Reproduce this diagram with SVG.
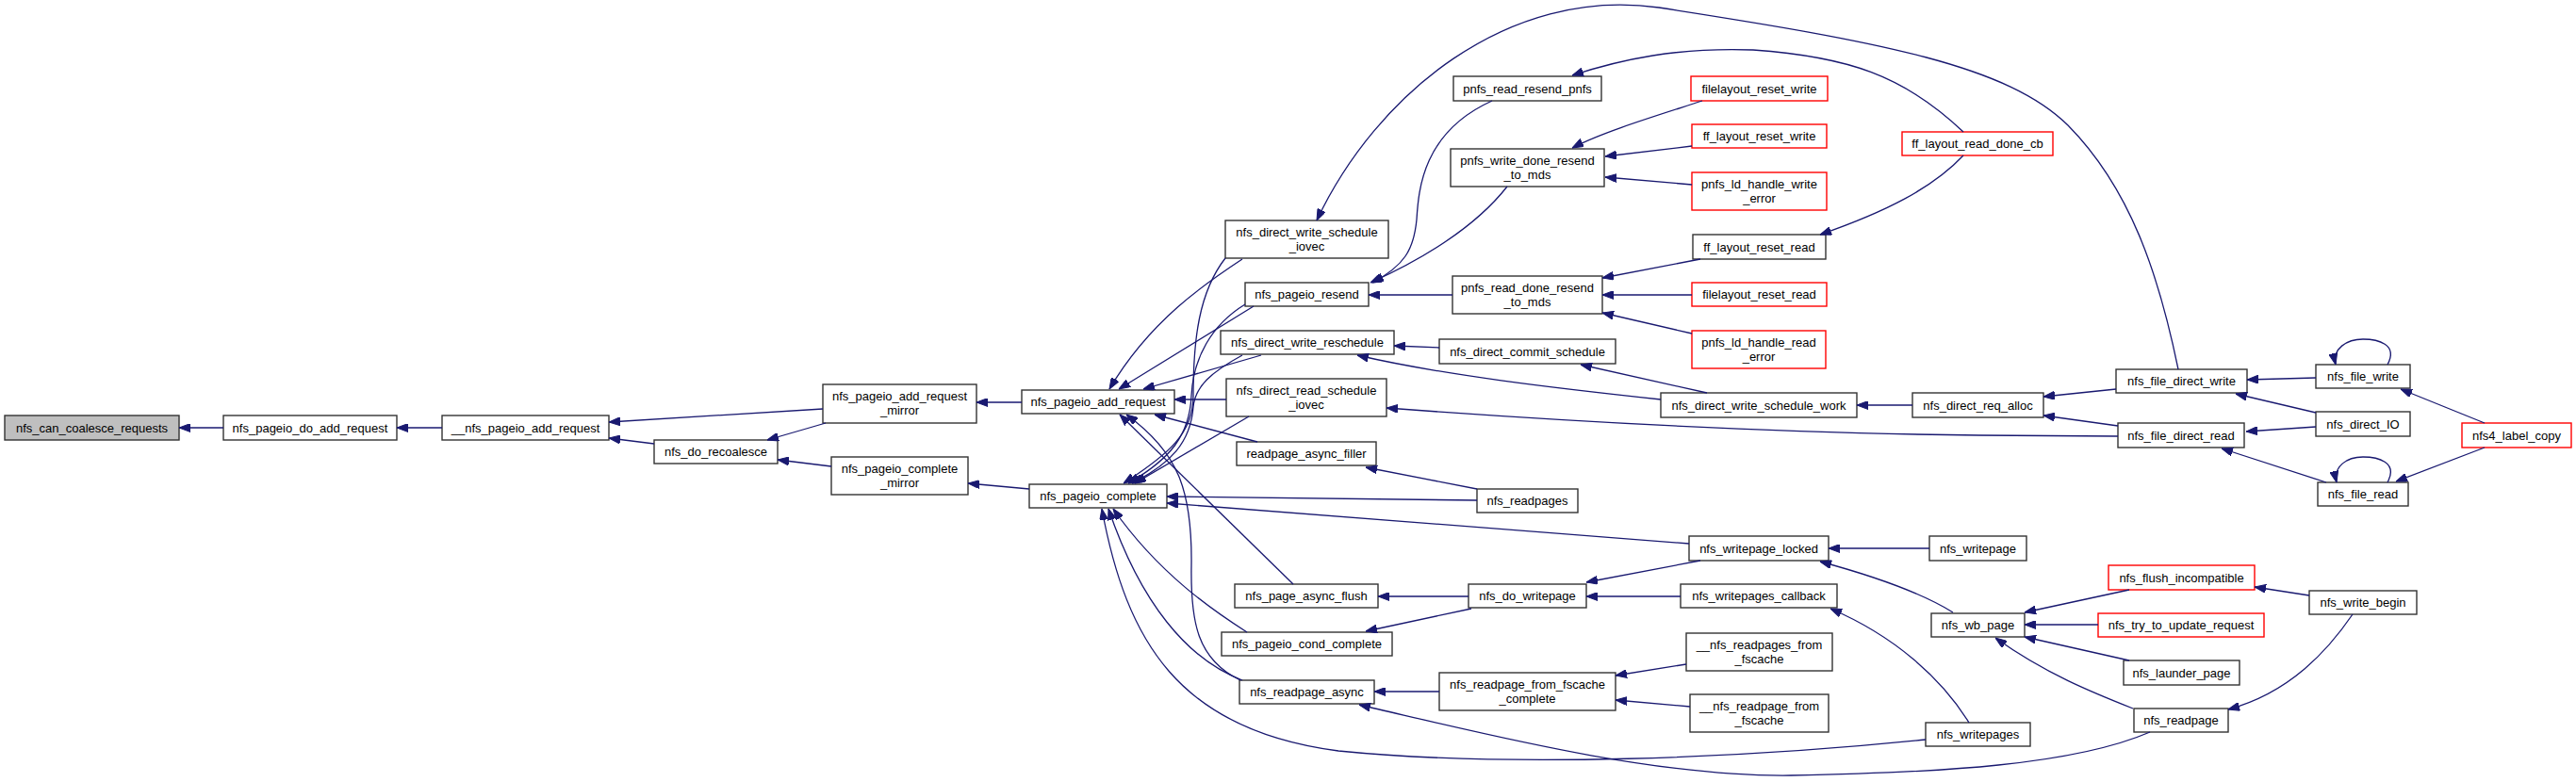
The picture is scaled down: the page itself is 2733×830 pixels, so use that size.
<svg xmlns="http://www.w3.org/2000/svg" width="2733" height="830" viewBox="0 0 2733 830">
<style>
.n rect{fill:#ffffff;stroke:#333333;stroke-width:1.4}
.r rect{fill:#ffffff;stroke:#ff0000;stroke-width:1.4}
.g rect{fill:#bfbfbf;stroke:#333333;stroke-width:1.4}
text{font-family:"Liberation Sans",Arial,sans-serif;font-size:13px;fill:#000000;text-anchor:middle}
#edges path{fill:none;stroke:#191970;stroke-width:1.3;marker-end:url(#ah)}
</style>
<defs>
<marker id="ah" markerWidth="12" markerHeight="9" refX="12" refY="4.5" orient="auto" markerUnits="userSpaceOnUse">
<path d="M0,0 L12,4.5 L0,9 Z" fill="#191970" stroke="#191970" stroke-width="1"/>
</marker>
</defs>
<rect width="2733" height="830" fill="#ffffff"/>

<g id="n_root" class="g"><rect x="5" y="441" width="185" height="26"/><text x="97.5" y="458.5">nfs_can_coalesce_requests</text></g>
<g id="n_do_add" class="n"><rect x="237" y="441" width="184" height="26"/><text x="329" y="458.5">nfs_pageio_do_add_request</text></g>
<g id="n___add" class="n"><rect x="469" y="441" width="177" height="26"/><text x="557.5" y="458.5">__nfs_pageio_add_request</text></g>
<g id="n_mirror" class="n"><rect x="873" y="408" width="163" height="41"/><text x="954.5" y="425">nfs_pageio_add_request</text><text x="954.5" y="440">_mirror</text></g>
<g id="n_recoalesce" class="n"><rect x="694" y="467" width="131" height="25"/><text x="759.5" y="484">nfs_do_recoalesce</text></g>
<g id="n_complete_mirror" class="n"><rect x="882" y="485" width="145" height="40"/><text x="954.5" y="502">nfs_pageio_complete</text><text x="954.5" y="517">_mirror</text></g>
<g id="n_add_request" class="n"><rect x="1084" y="414" width="162" height="25"/><text x="1165" y="431">nfs_pageio_add_request</text></g>
<g id="n_complete" class="n"><rect x="1092" y="514" width="146" height="25"/><text x="1165" y="531">nfs_pageio_complete</text></g>
<g id="n_write_schedule_iovec" class="n"><rect x="1300" y="234" width="173" height="40"/><text x="1386.5" y="251">nfs_direct_write_schedule</text><text x="1386.5" y="266">_iovec</text></g>
<g id="n_resend" class="n"><rect x="1321" y="300" width="131" height="25"/><text x="1386.5" y="317">nfs_pageio_resend</text></g>
<g id="n_reschedule" class="n"><rect x="1295" y="351" width="184" height="25"/><text x="1387" y="368">nfs_direct_write_reschedule</text></g>
<g id="n_read_schedule_iovec" class="n"><rect x="1301" y="402" width="170" height="40"/><text x="1386" y="419">nfs_direct_read_schedule</text><text x="1386" y="434">_iovec</text></g>
<g id="n_filler" class="n"><rect x="1312" y="469" width="148" height="25"/><text x="1386" y="486">readpage_async_filler</text></g>
<g id="n_page_async_flush" class="n"><rect x="1310" y="620" width="152" height="25"/><text x="1386" y="637">nfs_page_async_flush</text></g>
<g id="n_cond_complete" class="n"><rect x="1296" y="671" width="181" height="25"/><text x="1386.5" y="688">nfs_pageio_cond_complete</text></g>
<g id="n_readpage_async" class="n"><rect x="1315" y="722" width="143" height="25"/><text x="1386.5" y="739">nfs_readpage_async</text></g>
<g id="n_read_resend_pnfs" class="n"><rect x="1542" y="81" width="157" height="26"/><text x="1620.5" y="98.5">pnfs_read_resend_pnfs</text></g>
<g id="n_write_done" class="n"><rect x="1539" y="158" width="163" height="40"/><text x="1620.5" y="175">pnfs_write_done_resend</text><text x="1620.5" y="190">_to_mds</text></g>
<g id="n_read_done" class="n"><rect x="1541" y="293" width="159" height="40"/><text x="1620.5" y="310">pnfs_read_done_resend</text><text x="1620.5" y="325">_to_mds</text></g>
<g id="n_commit_schedule" class="n"><rect x="1527" y="360" width="187" height="26"/><text x="1620.5" y="377.5">nfs_direct_commit_schedule</text></g>
<g id="n_write_schedule_work" class="n"><rect x="1762" y="417" width="208" height="26"/><text x="1866" y="434.5">nfs_direct_write_schedule_work</text></g>
<g id="n_readpages" class="n"><rect x="1567" y="519" width="107" height="25"/><text x="1620.5" y="536">nfs_readpages</text></g>
<g id="n_writepage_locked" class="n"><rect x="1792" y="569" width="148" height="26"/><text x="1866" y="586.5">nfs_writepage_locked</text></g>
<g id="n_do_writepage" class="n"><rect x="1558" y="620" width="125" height="25"/><text x="1620.5" y="637">nfs_do_writepage</text></g>
<g id="n_writepages_callback" class="n"><rect x="1783" y="620" width="166" height="25"/><text x="1866" y="637">nfs_writepages_callback</text></g>
<g id="n___readpages_fscache" class="n"><rect x="1789" y="672" width="155" height="40"/><text x="1866.5" y="689">__nfs_readpages_from</text><text x="1866.5" y="704">_fscache</text></g>
<g id="n_fscache_complete" class="n"><rect x="1527" y="714" width="187" height="40"/><text x="1620.5" y="731">nfs_readpage_from_fscache</text><text x="1620.5" y="746">_complete</text></g>
<g id="n___readpage_fscache" class="n"><rect x="1793" y="737" width="147" height="40"/><text x="1866.5" y="754">__nfs_readpage_from</text><text x="1866.5" y="769">_fscache</text></g>
<g id="n_filelayout_reset_write" class="r"><rect x="1794" y="81" width="145" height="26"/><text x="1866.5" y="98.5">filelayout_reset_write</text></g>
<g id="n_ff_layout_reset_write" class="r"><rect x="1795" y="132" width="143" height="25"/><text x="1866.5" y="149">ff_layout_reset_write</text></g>
<g id="n_handle_write_error" class="r"><rect x="1795" y="183" width="143" height="40"/><text x="1866.5" y="200">pnfs_ld_handle_write</text><text x="1866.5" y="215">_error</text></g>
<g id="n_ff_layout_reset_read" class="n"><rect x="1796" y="249" width="141" height="26"/><text x="1866.5" y="266.5">ff_layout_reset_read</text></g>
<g id="n_filelayout_reset_read" class="r"><rect x="1795" y="300" width="143" height="25"/><text x="1866.5" y="317">filelayout_reset_read</text></g>
<g id="n_handle_read_error" class="r"><rect x="1795" y="351" width="142" height="40"/><text x="1866" y="368">pnfs_ld_handle_read</text><text x="1866" y="383">_error</text></g>
<g id="n_ff_layout_read_done_cb" class="r"><rect x="2018" y="140" width="160" height="25"/><text x="2098" y="157">ff_layout_read_done_cb</text></g>
<g id="n_req_alloc" class="n"><rect x="2029" y="417" width="139" height="26"/><text x="2098.5" y="434.5">nfs_direct_req_alloc</text></g>
<g id="n_writepage" class="n"><rect x="2047" y="569" width="103" height="26"/><text x="2098.5" y="586.5">nfs_writepage</text></g>
<g id="n_wb_page" class="n"><rect x="2049" y="651" width="99" height="25"/><text x="2098.5" y="668">nfs_wb_page</text></g>
<g id="n_writepages" class="n"><rect x="2043" y="767" width="111" height="25"/><text x="2098.5" y="784">nfs_writepages</text></g>
<g id="n_file_direct_write" class="n"><rect x="2245" y="392" width="139" height="25"/><text x="2314.5" y="409">nfs_file_direct_write</text></g>
<g id="n_file_direct_read" class="n"><rect x="2247" y="449" width="134" height="26"/><text x="2314" y="466.5">nfs_file_direct_read</text></g>
<g id="n_flush_incompatible" class="r"><rect x="2237" y="600" width="155" height="26"/><text x="2314.5" y="617.5">nfs_flush_incompatible</text></g>
<g id="n_try_to_update_request" class="r"><rect x="2226" y="651" width="176" height="25"/><text x="2314" y="668">nfs_try_to_update_request</text></g>
<g id="n_launder_page" class="n"><rect x="2253" y="701" width="123" height="26"/><text x="2314.5" y="718.5">nfs_launder_page</text></g>
<g id="n_readpage" class="n"><rect x="2264" y="752" width="100" height="25"/><text x="2314" y="769">nfs_readpage</text></g>
<g id="n_file_write" class="n"><rect x="2457" y="387" width="100" height="25"/><text x="2507" y="404">nfs_file_write</text></g>
<g id="n_direct_IO" class="n"><rect x="2457" y="437" width="100" height="26"/><text x="2507" y="454.5">nfs_direct_IO</text></g>
<g id="n_file_read" class="n"><rect x="2459" y="512" width="96" height="25"/><text x="2507" y="529">nfs_file_read</text></g>
<g id="n_write_begin" class="n"><rect x="2450" y="627" width="114" height="25"/><text x="2507" y="644">nfs_write_begin</text></g>
<g id="n_nfs4_label_copy" class="r"><rect x="2612" y="449" width="116" height="26"/><text x="2670" y="466.5">nfs4_label_copy</text></g>

<g id="edges">
<path d="M237,454 L190,454"/>
<path d="M469,454 L421,454"/>
<path d="M873,434 L646,448"/>
<path d="M694,471 L646,465"/>
<path d="M876,449 L814,467"/>
<path d="M882,495 L825,488"/>
<path d="M1084,427 L1036,427"/>
<path d="M1092,519 L1027,513"/>
<path d="M1318,275 C1280,300 1220,340 1177,413"/>
<path d="M1330,325 L1187,413"/>
<path d="M1338,377 L1213,413"/>
<path d="M1301,424 L1246,424"/>
<path d="M1334,469 L1225,440"/>
<path d="M1372,620 L1188,440"/>
<path d="M1316,722 C1270,700 1263,660 1264,600 C1265,520 1250,480 1195,440"/>
<path d="M1300,274 C1272,310 1266,360 1266,420 C1266,460 1240,482 1192,513"/>
<path d="M1321,323 C1285,345 1266,380 1264,420 C1262,462 1242,487 1197,513"/>
<path d="M1318,377 C1285,395 1268,410 1266,432 C1263,470 1242,492 1201,513"/>
<path d="M1325,442 L1204,513"/>
<path d="M1567,531 L1238,527"/>
<path d="M1792,577 L1238,534"/>
<path d="M1323,671 C1290,650 1230,610 1181,540"/>
<path d="M1318,722 C1260,700 1210,640 1176,540"/>
<path d="M2043,785 C1850,805 1600,815 1420,797 C1250,775 1195,680 1169,540"/>
<path d="M1527,734 L1458,734"/>
<path d="M2281,777 C2200,812 2060,820 1900,823 C1750,825 1560,775 1442,748"/>
<path d="M1583,107 C1510,140 1505,200 1503,233 C1500,265 1490,282 1456,300"/>
<path d="M1599,198 C1570,235 1520,270 1454,300"/>
<path d="M1541,313 L1452,313"/>
<path d="M2311,392 C2290,290 2260,200 2194,133 C2130,70 2000,45 1760,8 C1600,-15 1460,100 1397,234"/>
<path d="M2083,140 C2020,80 1960,60 1860,53 C1780,50 1720,63 1668,80"/>
<path d="M1806,107 C1760,122 1700,140 1668,157"/>
<path d="M1795,155 L1703,166"/>
<path d="M1795,196 L1703,188"/>
<path d="M2083,165 C2050,200 2000,225 1931,249"/>
<path d="M1804,275 L1700,295"/>
<path d="M1795,313 L1700,313"/>
<path d="M1795,354 L1700,332"/>
<path d="M1527,369 L1479,367"/>
<path d="M1762,424 C1650,412 1530,398 1440,377"/>
<path d="M1811,417 L1677,387"/>
<path d="M2029,430 L1970,430"/>
<path d="M2247,463 L2100,462 C1900,460 1700,450 1471,433"/>
<path d="M2245,413 L2168,421"/>
<path d="M2247,452 L2168,441"/>
<path d="M2457,401 L2384,403"/>
<path d="M2457,438 L2372,418"/>
<path d="M2533,387 C2545,365 2522,360 2507,360 C2490,360 2474,370 2478,387"/>
<path d="M2636,449 L2547,413"/>
<path d="M2457,453 L2383,458"/>
<path d="M2468,512 L2357,476"/>
<path d="M2533,512 C2545,490 2522,485 2507,485 C2490,485 2475,495 2479,512"/>
<path d="M2636,475 L2542,511"/>
<path d="M1567,519 L1449,496"/>
<path d="M2047,582 L1940,582"/>
<path d="M2072,650 C2040,630 1990,612 1931,596"/>
<path d="M1804,595 L1683,618"/>
<path d="M1783,633 L1683,633"/>
<path d="M1558,633 L1462,633"/>
<path d="M1561,646 L1449,670"/>
<path d="M2089,767 C2060,720 2010,675 1942,646"/>
<path d="M1789,705 L1714,717"/>
<path d="M1793,750 L1714,743"/>
<path d="M2259,626 L2148,650"/>
<path d="M2226,663 L2148,663"/>
<path d="M2259,701 L2148,676"/>
<path d="M2263,752 C2220,735 2170,715 2117,677"/>
<path d="M2450,632 L2392,623"/>
<path d="M2496,652 C2470,690 2430,735 2364,753"/>
</g>
</svg>
